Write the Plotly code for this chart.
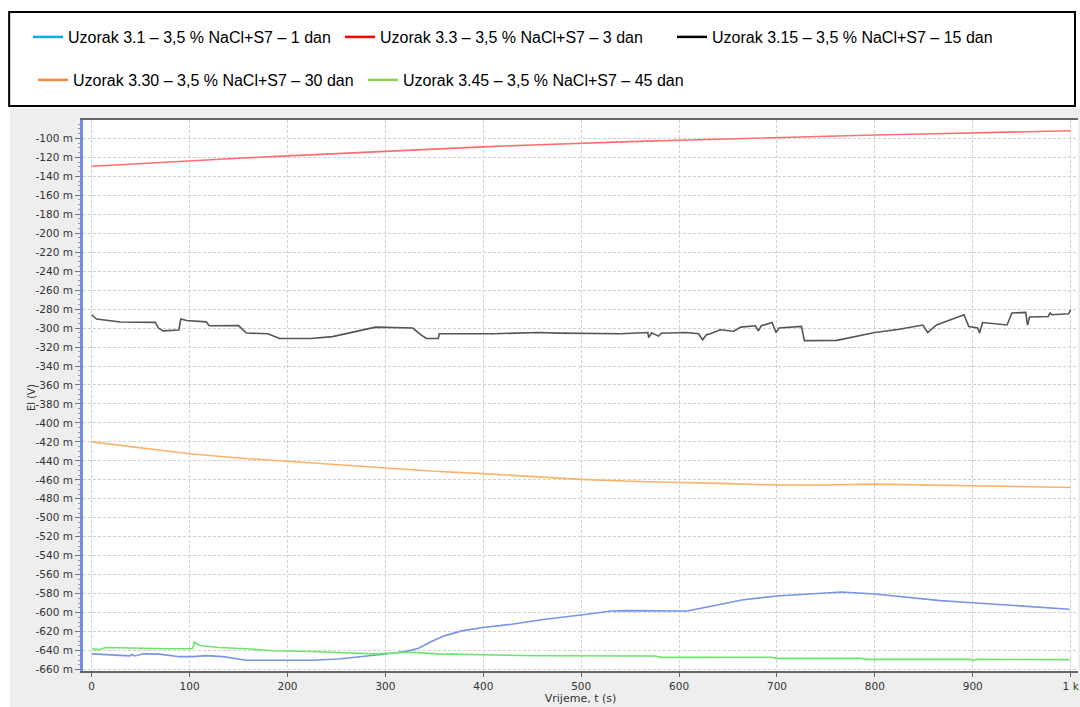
import plotly.graph_objects as go

W, H = 1080, 707
# plot area in pixels
PL, PR, PT, PB = 83, 0, 120, 36

# Series data (time in s, potential in mV shown as "m")
NAMES = [
    'Uzorak 3.1 – 3,5 % NaCl+S7 – 1 dan',
    'Uzorak 3.3 – 3,5 % NaCl+S7 – 3 dan',
    'Uzorak 3.15 – 3,5 % NaCl+S7 – 15 dan',
    'Uzorak 3.30 – 3,5 % NaCl+S7 – 30 dan',
    'Uzorak 3.45 – 3,5 % NaCl+S7 – 45 dan',
]

BLUE_T = [0, 22, 29, 39, 41, 44, 53, 69, 90, 103, 117, 134, 158, 205, 225, 252, 286, 303, 320,
          334, 347, 361, 378, 400, 429, 463, 500, 531, 545, 608, 630, 664, 700, 739, 766, 800,
          833, 867, 900, 935, 969, 999]
BLUE_V = [-643.4, -644.5, -645.6, -645.6, -644.1, -645.6, -643.4, -643.7, -646.4, -646.4, -645.3,
          -646.4, -650.2, -650.5, -650.2, -648.8, -645.6, -643.4, -641, -637.6, -630.5, -624.2,
          -619.2, -615.7, -612.2, -606.9, -602.4, -598.2, -597.9, -598.2, -593.7, -586.6, -582.4,
          -579.6, -578.2, -580.3, -583.8, -587.3, -589.5, -591.9, -594.7, -596.4]

RED_T = [0, 50, 100, 150, 200, 250, 300, 350, 400, 450, 500, 550, 600, 650, 700, 750, 800, 850,
         900, 950, 1000]
RED_V = [-129.5, -126.5, -123.5, -121, -118.5, -116, -113.5, -111, -109, -107, -105, -103.5,
         -102, -100.5, -99, -98, -96.5, -95.5, -94.5, -93.5, -92]

BLACK_T = [0, 5, 29, 65, 68, 73, 89, 91, 97, 117, 120, 150, 158, 180, 192, 224, 246, 273, 290,
           328, 337, 342, 354, 355, 410, 456, 478, 540, 568, 569, 572, 579, 582, 607, 620, 624,
           628, 632, 642, 656, 663, 678, 681, 684, 695, 699, 702, 725, 728, 761, 800, 825, 849,
           854, 863, 891, 896, 905, 907, 910, 935, 940, 954, 956, 958, 977, 979, 981, 998, 1000]
BLACK_V = [-286, -290.5, -293.7, -294, -300, -303, -302, -290.5, -292, -293.5, -297.6, -297.4,
           -305.3, -306, -311, -311, -309, -302.6, -299, -300, -307.8, -311, -311, -306, -306,
           -304.7, -305.3, -306, -304.7, -310, -305, -308.5, -305.5, -304.7, -306, -312.4, -307,
           -306, -301.8, -303.4, -299, -297.6, -303, -297.6, -294.2, -304.7, -300, -298.3,
           -313.3, -313, -304.7, -301.3, -296.8, -304.7, -296.8, -286, -298.3, -300, -305.3,
           -294.2, -296.8, -284.2, -283.5, -296.8, -288.4, -287.8, -284.2, -286, -285, -280.7]

ORANGE_T = [0, 50, 100, 150, 200, 250, 300, 350, 400, 450, 500, 550, 600, 650, 700, 750, 800,
            850, 900, 950, 1000]
ORANGE_V = [-420, -426.5, -432.5, -437, -440.5, -444, -447.5, -451, -453.5, -456.5, -459.5,
            -461.5, -462.5, -464, -465.5, -465.5, -464.5, -465.5, -466, -467, -468]

GREEN_T = [0, 8, 14, 36, 78, 103, 105, 110, 130, 158, 185, 225, 287, 307, 324, 354, 395, 456,
           575, 582, 694, 700, 786, 791, 898, 901, 904, 999]
GREEN_V = [-638.1, -639, -636.7, -637.3, -638, -638, -631, -634.6, -636.7, -638.1, -640.2,
           -640.9, -643.4, -642.7, -641.6, -643.4, -644.5, -645.5, -645.7, -647.1, -647, -648.2,
           -648.2, -649.2, -649.2, -650.6, -649.2, -649.5]

Y_TICKS = list(range(-660, -99, 20))
Y_LABELS = [f"{v} m" for v in Y_TICKS]
X_TICKS = [0, 100, 200, 300, 400, 500, 600, 700, 800, 900, 1000]
X_LABELS = ['0', '100', '200', '300', '400', '500', '600', '700', '800', '900', '1 k']

LINE_COLORS = ['#7a94e8', '#ff6e6e', '#555555', '#fbb26a', '#6ee46e']
LEGEND_COLORS = ['#00b0f0', '#ff0000', '#000000', '#f4893e', '#92d050']
# where each legend entry sits (left px, row centre px), as in the report's legend box
LEGEND_POS = [(28, 37), (340, 37), (672, 37), (33, 80), (363, 80)]


def px_x(p):
    return (p - PL) / (W - PL - PR)


def px_y(p):
    return (H - PB - p) / (H - PT - PB)


fig = go.Figure()

series = [(BLUE_T, BLUE_V), (RED_T, RED_V), (BLACK_T, BLACK_V), (ORANGE_T, ORANGE_V),
          (GREEN_T, GREEN_V)]
for (t, v), c in zip(series, LINE_COLORS):
    fig.add_trace(go.Scatter(x=t, y=v, mode='lines', line=dict(color=c, width=1.6),
                             showlegend=False, hoverinfo='x+y'))

# legend entries use the report's own colours, one small legend per entry
legends = {}
for i, (name, c, (lx, ly)) in enumerate(zip(NAMES, LEGEND_COLORS, LEGEND_POS)):
    key = 'legend' if i == 0 else f'legend{i + 1}'
    fig.add_trace(go.Scatter(x=[None], y=[None], mode='lines', name=name,
                             line=dict(color=c, width=2.5), legend=key))
    legends[key] = dict(
        orientation='h', xref='container', yref='container', xanchor='left',
        yanchor='middle', x=lx / W, y=1 - ly / H,
        bgcolor='rgba(0,0,0,0)', borderwidth=0,
        font=dict(family='Liberation Sans', size=16, color='#000000'))

fig.update_layout(
    width=W, height=H,
    margin=dict(l=PL, r=PR, t=PT, b=PB),
    paper_bgcolor='#eeeeee',
    plot_bgcolor='#ffffff',
    shapes=[
        # white page around the chart image
        dict(type='rect', xref='paper', yref='paper', x0=-0.2, x1=1.2,
             y0=px_y(108), y1=px_y(-20), fillcolor='#ffffff', line_width=0, layer='below'),
        dict(type='rect', xref='paper', yref='paper', x0=-0.2, x1=px_x(10),
             y0=-0.2, y1=px_y(108), fillcolor='#ffffff', line_width=0, layer='below'),
        # legend frame
        dict(type='rect', xref='paper', yref='paper', x0=px_x(9), x1=px_x(1077),
             y0=px_y(106), y1=px_y(12), fillcolor='#ffffff',
             line=dict(color='#000000', width=2), layer='below'),
    ],
    annotations=[
        dict(text='El (V)', textangle=-90, xref='paper', yref='paper',
             x=px_x(31), y=px_y(398), xanchor='center', yanchor='middle', showarrow=False,
             font=dict(family='DejaVu Sans', size=10, color='#333333')),
    ],
    xaxis=dict(
        range=[-8.9, 1007.5],
        tickmode='array', tickvals=X_TICKS, ticktext=X_LABELS,
        ticklabeloverflow='allow',
        showline=True, linecolor='#666666', linewidth=2, mirror=True,
        ticks='outside', ticklen=4, tickcolor='#666666',
        showgrid=True, gridcolor='#cfcfcf', griddash='3px,2px', gridwidth=1,
        zeroline=False,
        tickfont=dict(family='DejaVu Sans', size=10.5, color='#333333'),
        title=dict(text='Vrijeme, t (s)', standoff=4,
                   font=dict(family='DejaVu Sans', size=11, color='#333333')),
    ),
    yaxis=dict(
        range=[-661.5, -80.7],
        tickmode='array', tickvals=Y_TICKS, ticktext=Y_LABELS,
        showline=True, linecolor='#6f8fe6', linewidth=3,
        ticks='outside', ticklen=5, tickcolor='#777777',
        minor=dict(dtick=5, tick0=-660, ticks='outside', ticklen=2, tickcolor='#999999',
                   showgrid=False),
        showgrid=True, gridcolor='#cfcfcf', griddash='3px,2px', gridwidth=1,
        zeroline=False,
        tickfont=dict(family='DejaVu Sans', size=10.5, color='#333333'),
    ),
    **legends,
)

# page body has a default 8px margin; drop it so the figure fills the window
fig.write_html("out.html", config={'displayModeBar': False},
               post_script="document.body.style.margin='0';")
